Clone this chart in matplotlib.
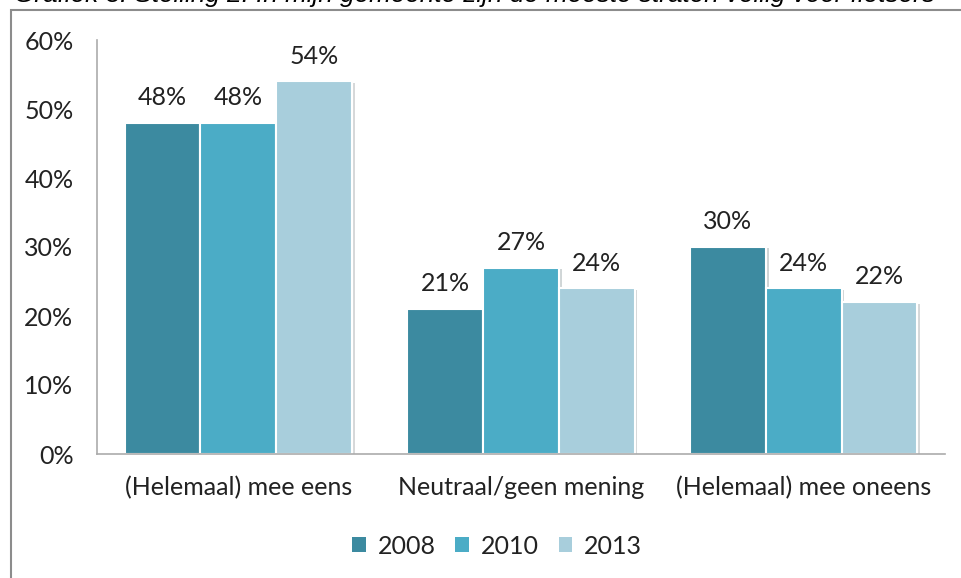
import matplotlib.pyplot as plt
import matplotlib.patheffects as pe
from matplotlib.patches import Rectangle, Patch
import numpy as np

# Data
categories = ["(Helemaal) mee eens", "Neutraal/geen mening", "(Helemaal) mee oneens"]
years = ["2008", "2010", "2013"]
values_2008 = [0.48, 0.21, 0.30]
values_2010 = [0.48, 0.27, 0.24]
values_2013 = [0.54, 0.24, 0.22]
colors = ["#3C8AA0", "#4BACC6", "#A8CEDC"]

W, H = 962, 578
fig = plt.figure(figsize=(W / 100, H / 100), dpi=100)
plt.rcParams['font.family'] = ['Lato', 'DejaVu Sans']

# title line, mostly cut off at the top
fig.text(14 / W, 1 - 2 / H, "Grafiek 3: Stelling 2: In mijn gemeente zijn de meeste straten veilig voor fietsers",
         family='Liberation Sans', style='italic', fontsize=18.8, va='baseline', ha='left', color='black')

# outer frame
fig.patches.append(Rectangle((10.5 / W, -0.1), 1.2, 1 - 9.5 / H + 0.1, transform=fig.transFigure,
                             fill=False, edgecolor='#8C8C8C', linewidth=1.5))

ax = fig.add_axes([97 / W, (H - 454) / H, (945 - 97) / W, (454 - 40) / H])

x = np.arange(len(categories))
w = 0.268
shadow = [pe.SimplePatchShadow(offset=(2, -1), alpha=0.2), pe.Normal()]
for i, vals in enumerate([values_2008, values_2010, values_2013]):
    bars = ax.bar(x + (i - 1) * w, vals, w, color=colors[i], edgecolor='white', linewidth=1.5,
                  path_effects=shadow)
    ax.bar_label(bars, labels=[f"{v * 100:.0f}%" for v in vals], padding=10, fontsize=18, color='#222222')

ax.set_xlim(-0.5, 2.5)
ax.set_ylim(0, 0.6)
ax.set_yticks(np.arange(0, 0.61, 0.1))
ax.set_yticklabels([f"{t * 100:.0f}%" for t in np.arange(0, 0.61, 0.1)])
ax.set_xticks(x)
ax.set_xticklabels(categories)
ax.tick_params(axis='y', length=0, pad=17, labelsize=18, labelcolor='#222222')
ax.tick_params(axis='x', length=0, pad=16, labelsize=18, labelcolor='#222222')
for s in ['top', 'right']:
    ax.spines[s].set_visible(False)
for s in ['left', 'bottom']:
    ax.spines[s].set_color('#ABABAB')
    ax.spines[s].set_linewidth(1.2)

handles = [Patch(facecolor=c, edgecolor='none', label=y) for c, y in zip(colors, years)]
fig.legend(handles=handles, loc='center', bbox_to_anchor=(497 / W, 1 - 546 / H), ncol=3, frameon=False,
           fontsize=18, handlelength=0.55, handleheight=0.55, handletextpad=0.45, columnspacing=0.8,
           labelcolor='#222222')

fig.savefig("out.png", dpi=100)
